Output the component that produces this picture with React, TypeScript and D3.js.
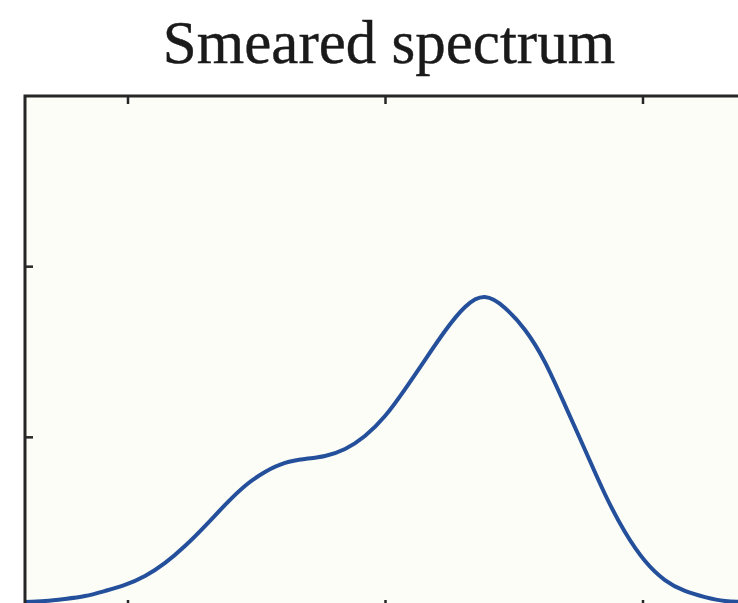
import React from "react";
import * as d3 from "d3";

// Smeared spectrum: intensity vs. energy
const energy = [1.6, 1.678, 1.755, 1.833, 1.911, 1.988, 2.066, 2.144, 2.221, 2.299, 2.377, 2.454, 2.532, 2.61, 2.687, 2.765, 2.843, 2.92, 2.998, 3.076, 3.153, 3.231, 3.309, 3.386, 3.464, 3.542, 3.619, 3.697, 3.775, 3.852, 3.93, 4.008, 4.085, 4.163, 4.241, 4.318, 4.396];
const intensity = [0.035, 0.041, 0.053, 0.07, 0.1, 0.135, 0.187, 0.264, 0.363, 0.48, 0.604, 0.715, 0.797, 0.85, 0.873, 0.891, 0.932, 1.008, 1.125, 1.283, 1.453, 1.623, 1.764, 1.822, 1.758, 1.629, 1.441, 1.189, 0.926, 0.668, 0.445, 0.275, 0.164, 0.1, 0.064, 0.041, 0.035];
const xTicks = [2, 3, 4];
const yTicks = [1, 2];

const W = 738;
const H = 603;
const plot = { left: 25, top: 96, right: 780, bottom: 608 };

export default function App() {
  const xScale = d3.scaleLinear().domain([2, 3]).range([128, 385.5]);
  const yScale = d3.scaleLinear().domain([0, 3]).range([plot.bottom, plot.top]);

  const line =
    d3
      .line<number>()
      .x((e) => xScale(e))
      .y((_, i) => yScale(intensity[i]))
      .curve(d3.curveNatural)(energy) || "";

  const { left, top, right, bottom } = plot;

  return (
    <svg width={W} height={H} style={{ display: "block", position: "absolute", left: 0, top: 0 }}>
      <rect x={0} y={0} width={W} height={H} fill="#ffffff" />
      <text
        x={389}
        y={63}
        textAnchor="middle"
        fontFamily="'Liberation Serif', 'Times New Roman', serif"
        fontSize={61}
        fill="#1a1a1a"
        stroke="#1a1a1a"
        strokeWidth={0.4}
      >
        Smeared spectrum
      </text>
      <defs>
        <clipPath id="plot-clip">
          <rect x={left} y={top} width={right - left} height={bottom - top} />
        </clipPath>
      </defs>
      <rect x={left} y={top} width={right - left} height={bottom - top} fill="#fdfdf7" />
      <path d={line} fill="none" stroke="#244f9b" strokeWidth={4} clipPath="url(#plot-clip)" strokeLinejoin="round" />
      {xTicks.map((t) => (
        <g key={"xt" + t}>
          <line x1={xScale(t)} x2={xScale(t)} y1={top} y2={top + 8} stroke="#262626" strokeWidth={2.5} />
          <line x1={xScale(t)} x2={xScale(t)} y1={bottom} y2={bottom - 8} stroke="#262626" strokeWidth={2.5} />
        </g>
      ))}
      {yTicks.map((t) => (
        <line key={"yt" + t} x1={left} x2={left + 8} y1={yScale(t)} y2={yScale(t)} stroke="#262626" strokeWidth={2.5} />
      ))}
      <rect x={left} y={top} width={right - left} height={bottom - top} fill="none" stroke="#262626" strokeWidth={3} />
    </svg>
  );
}
